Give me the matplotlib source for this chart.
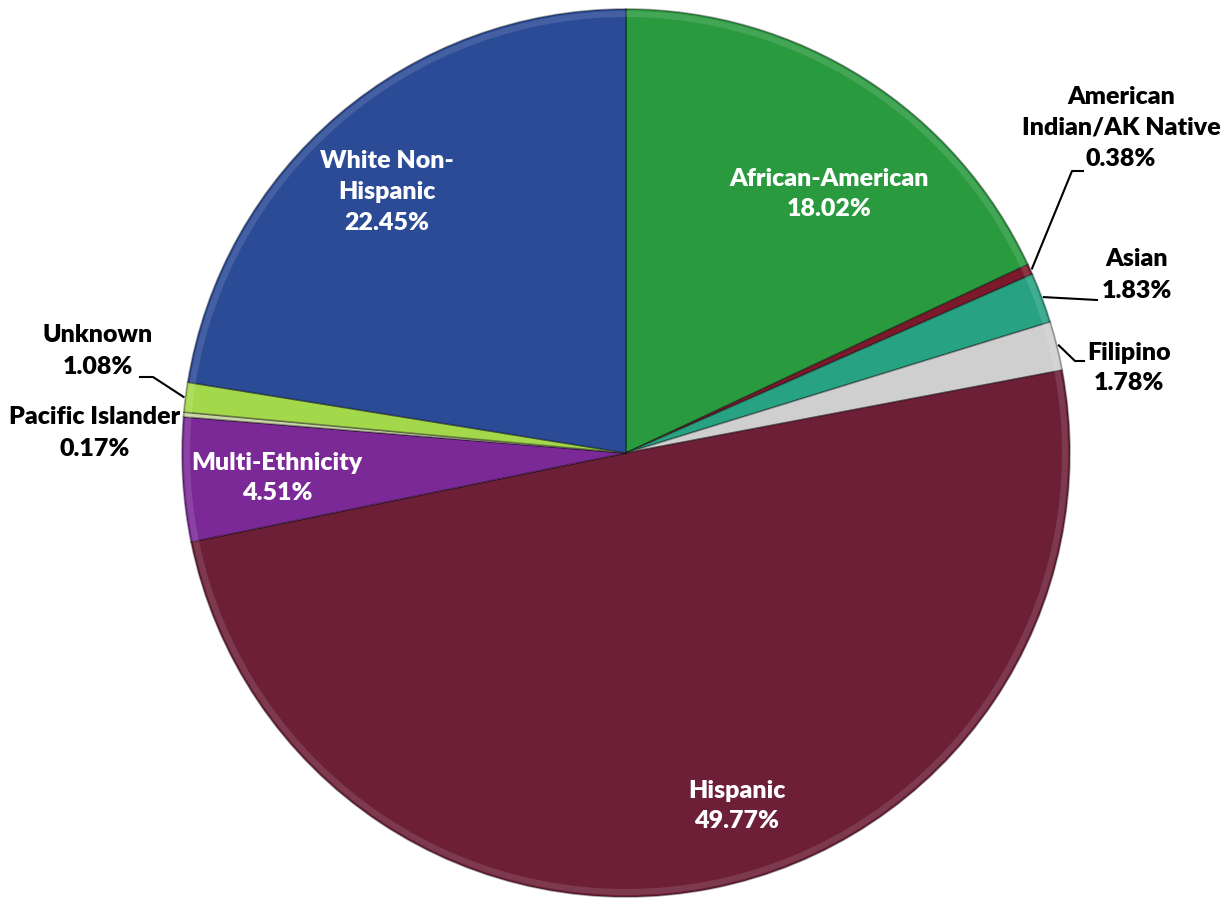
import numpy as np
import matplotlib
matplotlib.use("Agg")
import matplotlib.pyplot as plt

# data, clockwise from 12 o'clock
groups = ["African-American", "American\nIndian/AK Native", "Asian", "Filipino", "Hispanic",
          "Multi-Ethnicity", "Pacific Islander", "Unknown", "White Non-\nHispanic"]
shares = [18.02, 0.38, 1.83, 1.78, 49.77, 4.51, 0.17, 1.08, 22.45]
colors = ["#2a9a3f", "#7c1a2c", "#27a283", "#cfcfcf", "#6c1f37",
          "#7a2997", "#c9d6a6", "#a3d84a", "#2b4b97"]

W, H = 1229, 899
fig = plt.figure(figsize=(W / 100, H / 100), dpi=100)
ax = fig.add_axes([0, 0, 1, 1])

cx, cy, R = 626, H - 453, 444
wedges, _ = ax.pie(shares, colors=colors, startangle=90, counterclock=False,
                   center=(cx, cy), radius=R, frame=True,
                   wedgeprops=dict(edgecolor=(0, 0, 0, 0.35), linewidth=1.2))
ax.set_xlim(0, W)
ax.set_ylim(0, H)
ax.set_aspect("equal")
ax.axis("off")

# subtle rim highlight for a bevelled look
for w in wedges:
    ax.add_patch(matplotlib.patches.Wedge((cx, cy), R - 2, w.theta1, w.theta2, width=6,
                                          facecolor="white", alpha=0.12, linewidth=0))

font = dict(family=["Lato", "DejaVu Sans"], fontweight="heavy", fontsize=18,
            ha="center", va="center", linespacing=1.5)

# label positions in pixels (x, y from top), and text colour
label_pos = [(829, 194), (1121, 128), (1137, 275), (1129, 368), (737, 806),
             (277, 478), (95, 433), (98, 351), (387, 192)]
label_col = ["white", "black", "black", "black", "white", "white", "black", "black", "white"]

for i, w in enumerate(wedges):
    txt = f"{groups[i]}\n{shares[i]:.2f}%"
    x, y = label_pos[i]
    ax.text(x, H - y, txt, color=label_col[i], **font)

def edge_pt(i, r=R):
    w = wedges[i]
    a = np.deg2rad((w.theta1 + w.theta2) / 2)
    return cx + r * np.cos(a), cy + r * np.sin(a)

# leader lines (pixel elbows)
leaders = {1: [(1072, 171), (1083, 171)],
           2: [(1097, 300)],
           3: [(1075, 361), (1084, 361)],
           7: [(153, 377), (140, 377)]}
for i, pts in leaders.items():
    x0, y0 = edge_pt(i, R + 2)
    xs = [x0] + [p[0] for p in pts]
    ys = [y0] + [H - p[1] for p in pts]
    ax.plot(xs, ys, color="black", lw=1.5)

fig.savefig("out.png", dpi=100)
